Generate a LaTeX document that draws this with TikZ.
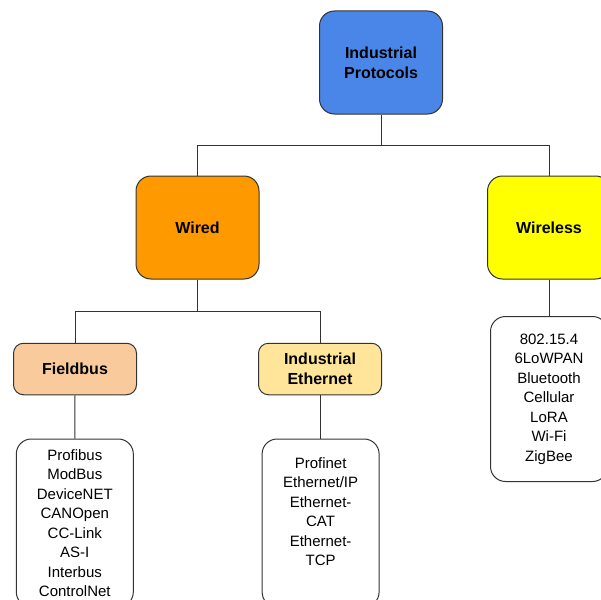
\documentclass[tikz,border=0pt]{standalone}
\usepackage{fontspec}
\setmainfont{Liberation Sans}
\definecolor{ipblue}{HTML}{4A86E8}
\definecolor{wiredorange}{HTML}{FF9900}
\definecolor{wlyellow}{HTML}{FFFF00}
\definecolor{fbpeach}{HTML}{F9CB9C}
\definecolor{ethyellow}{HTML}{FFE599}
\definecolor{edge}{HTML}{333333}
\begin{document}
\begin{tikzpicture}[x=1pt,y=-1pt,
  bigbox/.style={draw=edge,line width=1pt,rounded corners=15pt,minimum width=123pt,minimum height=103pt,inner sep=0pt,align=center,font=\fontsize{16}{20}\selectfont\bfseries},
  midbox/.style={draw=edge,line width=1pt,rounded corners=10pt,minimum width=123pt,minimum height=51.5pt,inner sep=0pt,align=center,font=\fontsize{16}{20}\selectfont\bfseries},
  listbox/.style={draw=edge,line width=1pt,rounded corners=15pt,minimum width=117pt,inner sep=0pt},
  listtext/.style={align=center,inner sep=0pt,font=\fontsize{15}{19.5}\selectfont},
  conn/.style={draw=edge,line width=1pt}]
\useasboundingbox (0,0) rectangle (601,599);
% main nodes
\node[bigbox,fill=ipblue] (ip) at (381,62.5) {Industrial\\Protocols};
\node[bigbox,fill=wiredorange] (wired) at (197.5,227.5) {Wired};
\node[bigbox,fill=wlyellow] (wireless) at (549,227.5) {Wireless};
\node[midbox,fill=fbpeach] (fieldbus) at (75,369) {Fieldbus};
\node[midbox,fill=ethyellow] (ieth) at (320,369) {Industrial\\Ethernet};
% list boxes
\node[listbox,minimum height=165pt] (wlist) at (549,399) {};
\node[listtext] (wtext) at (549,399) {802.15.4\\6LoWPAN\\Bluetooth\\Cellular\\LoRA\\Wi-Fi\\ZigBee};
\node[listbox,minimum height=168pt] (flist) at (74.8,523) {};
\node[listtext] (ftext) at (74.8,523) {Profibus\\ModBus\\DeviceNET\\CANOpen\\CC-Link\\AS-I\\Interbus\\ControlNet};
\node[listbox,minimum height=168pt] (elist) at (320.6,523) {};
\node[listtext] (etext) at (320.6,511.5) {Profinet\\Ethernet/IP\\Ethernet-\\CAT\\Ethernet-\\TCP};
% connectors
\coordinate (busA) at (381,145);
\coordinate (busB) at (197.5,311.5);
\draw[conn] (ip.south) -- (busA) -| (wired.north);
\draw[conn] (busA) -| (wireless.north);
\draw[conn] (wired.south) -- (busB) -| (fieldbus.north);
\draw[conn] (busB) -| (ieth.north);
\draw[conn] (fieldbus.south) -- (flist.north);
\draw[conn] (ieth.south) -- (ieth.south |- elist.north);
\draw[conn] (wireless.south) -- (wlist.north);
\end{tikzpicture}
\end{document}
